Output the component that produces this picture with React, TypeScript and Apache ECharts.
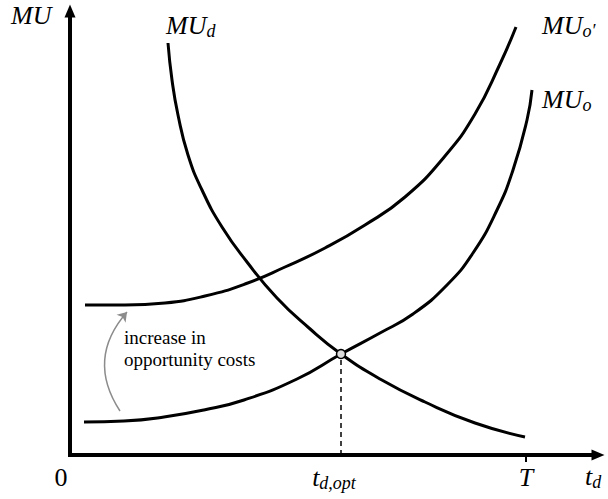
import React, { useEffect, useRef } from "react";
import * as echarts from "echarts";

// Axis extents (same units as the curves below)
const X_MAX = 528;
const Y_MAX = 444;
const T_VALUE = 456;
const T_OPT = 271;
const MU_OPT = 101;

// Curves: [t_d, MU]
const muD: number[][] = [
  [98, 412], [102, 375], [108, 340], [118, 300], [132, 265], [152, 228], [177, 193],
  [207, 157], [239, 127], [271, 101], [310, 76], [355, 53], [405, 32], [455, 18],
];
const muO: number[][] = [
  [14, 33], [54, 34], [94, 38], [134, 45], [174, 55], [227, 76], [271, 101], [310, 122],
  [343, 141], [377, 170], [403, 202], [427, 245], [443, 285], [457, 335], [462, 365],
];
const muOPrime: number[][] = [
  [15, 150], [55, 150], [95, 152], [135, 159], [175, 171], [215, 188], [255, 207],
  [295, 230], [335, 258], [375, 299], [405, 341], [430, 391], [446, 428],
];
const shiftArrow: number[][] = [[50, 44], [57, 143]];

const SERIF = "Liberation Serif";
const NOTE_FONT = "Times New Roman";

const richMath = {
  m: { fontFamily: SERIF, fontStyle: "italic", fontSize: 26, lineHeight: 30, color: "#000" },
  s: { fontFamily: SERIF, fontStyle: "italic", fontSize: 18, lineHeight: 14, verticalAlign: "bottom", color: "#000" },
  z: { fontFamily: NOTE_FONT, fontSize: 26, lineHeight: 30, color: "#000", padding: [0, 18, 0, 0] },
  o: { fontFamily: SERIF, fontStyle: "italic", fontSize: 26, lineHeight: 30, color: "#000" },
  os: { fontFamily: SERIF, fontStyle: "italic", fontSize: 18, lineHeight: 14, verticalAlign: "bottom", color: "#000", padding: [0, 14, 0, 0] },
  note: { fontFamily: NOTE_FONT, fontStyle: "normal", fontSize: 19, lineHeight: 22, color: "#222" },
};

export default function App() {
  const ref = useRef<HTMLDivElement>(null);
  useEffect(() => {
    if (!ref.current) return;
    const chart = echarts.init(ref.current, null, { renderer: "svg" });
    const curveStyle = { color: "#000", width: 3 };
    const curve = (data: number[][]) => ({
      type: "line",
      data,
      smooth: true,
      showSymbol: false,
      lineStyle: curveStyle,
      z: 3,
    });
    chart.setOption({
      animation: false,
      backgroundColor: "#fff",
      grid: { left: 70, right: 10, top: 11, bottom: 44 },
      xAxis: {
        type: "value",
        min: 0,
        max: X_MAX,
        splitLine: { show: false },
        axisLine: {
          symbol: ["none", "triangle"],
          symbolSize: [11, 13],
          lineStyle: { color: "#000", width: 4, cap: "square" },
        },
        axisTick: {
          show: true,
          customValues: [T_VALUE],
          length: 7,
          lineStyle: { color: "#000", width: 2 },
        },
        axisLabel: {
          customValues: [0, T_OPT, T_VALUE],
          margin: 7,
          formatter: (v: number) =>
            v === 0 ? "{z|0}" : v === T_OPT ? "{o|t}{os|d,opt}" : "{m|T}",
          rich: richMath,
        },
      },
      yAxis: {
        type: "value",
        min: 0,
        max: Y_MAX,
        splitLine: { show: false },
        axisTick: { show: false },
        axisLabel: { show: false },
        axisLine: {
          symbol: ["none", "triangle"],
          symbolSize: [11, 13],
          lineStyle: { color: "#000", width: 4, cap: "square" },
        },
      },
      series: [
        curve(muD),
        curve(muO),
        curve(muOPrime),
        {
          type: "line",
          data: [[T_OPT, 0], [T_OPT, MU_OPT]],
          showSymbol: false,
          lineStyle: { color: "#000", width: 1.5, type: [5, 4] },
          z: 2,
        },
        {
          type: "lines",
          coordinateSystem: "cartesian2d",
          symbol: ["none", "arrow"],
          symbolSize: 9,
          lineStyle: { color: "#8c8c8c", width: 1.5, curveness: 0.38, opacity: 1 },
          itemStyle: { color: "#8c8c8c" },
          data: [{ coords: shiftArrow }],
          z: 2,
        },
        {
          type: "scatter",
          data: [[T_OPT, MU_OPT]],
          symbolSize: 9,
          itemStyle: { color: "#dcdcdc", borderColor: "#000", borderWidth: 1.5, opacity: 1 },
          z: 5,
        },
      ],
      graphic: [
        { type: "text", x: 11, y: 0, style: { text: "{m|MU}", rich: richMath } },
        { type: "text", x: 166, y: 10, style: { text: "{m|MU}{s|d}", rich: richMath } },
        { type: "text", x: 542, y: 10, style: { text: "{m|MU}{s|o′}", rich: richMath } },
        { type: "text", x: 542, y: 84, style: { text: "{m|MU}{s|o}", rich: richMath } },
        { type: "text", x: 585, y: 461, style: { text: "{m|t}{s|d}", rich: richMath } },
        {
          type: "text",
          x: 124,
          y: 326,
          style: { text: "{note|increase in}\n{note|opportunity costs}", rich: richMath },
        },
      ],
    });
    return () => chart.dispose();
  }, []);
  return (
    <div
      ref={ref}
      style={{ position: "fixed", left: 0, top: 0, width: 608, height: 499, background: "#fff" }}
    />
  );
}
